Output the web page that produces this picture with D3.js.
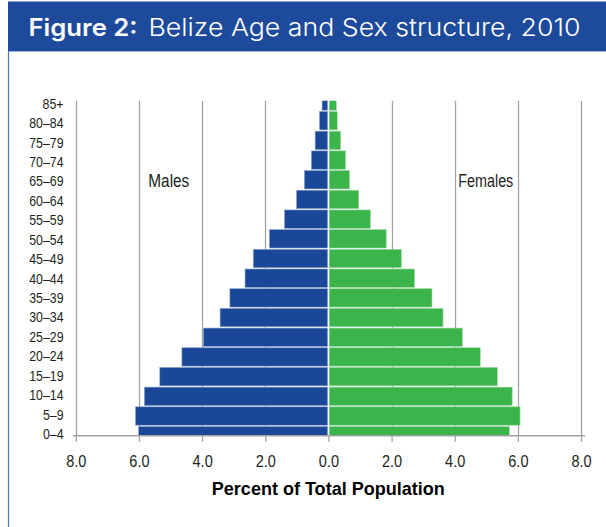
<!DOCTYPE html>
<html><head><meta charset="utf-8">
<script src="https://cdn.jsdelivr.net/npm/d3@7"></script>
<style>
body{margin:0;background:#fff;}
svg{display:block;}
</style></head>
<body>
<svg id="chart" width="606" height="527"></svg>
<script>
const ageGroups = ["0–4","5–9","10–14","15–19","20–24","25–29","30–34","35–39","40–44","45–49","50–54","55–59","60–64","65–69","70–74","75–79","80–84","85+"];
const males   = [6.01,6.11,5.83,5.34,4.64,3.96,3.43,3.12,2.64,2.38,1.87,1.39,1.01,0.76,0.54,0.42,0.28,0.20];
const females = [5.73,6.07,5.82,5.35,4.81,4.24,3.63,3.28,2.73,2.31,1.83,1.33,0.96,0.67,0.54,0.39,0.28,0.25];
const tickValues = [-8,-6,-4,-2,0,2,4,6,8];

const svg = d3.select("#chart");
const narrow = "'Liberation Sans',Arial,sans-serif";
function squeeze(sel, f){
  sel.each(function(){
    const w = this.getComputedTextLength();
    d3.select(this).attr("textLength", w*f).attr("lengthAdjust","spacingAndGlyphs");
  });
}
function fit(sel, w){
  sel.attr("textLength", w).attr("lengthAdjust","spacingAndGlyphs");
}

// header band
svg.append("rect").attr("x",8).attr("y",1.5).attr("width",598).attr("height",49.5).attr("fill","#1d4a9b");
svg.append("line").attr("x1",8).attr("x2",606).attr("y1",51.5).attr("y2",51.5).attr("stroke","#9db8e0").attr("stroke-width",1);
svg.append("line").attr("x1",8.5).attr("x2",8.5).attr("y1",51).attr("y2",527).attr("stroke","#4a78c6").attr("stroke-width",1.2);

const t1 = svg.append("text").attr("x",28.5).attr("y",35.7)
  .attr("fill","#fff").attr("font-family","Inter,'Open Sans',sans-serif").attr("font-size",24).attr("font-weight",600)
  .text("Figure 2:");
fit(t1, 109);
const t2 = svg.append("text").attr("x",148.5).attr("y",35.7)
  .attr("fill","#fff").attr("font-family","Inter,'Open Sans',sans-serif").attr("font-size",24).attr("font-weight",300)
  .text("Belize Age and Sex structure, 2010");
fit(t2, 432);

const plotTop = 100.7, plotBottom = 435.7;
const x = d3.scaleLinear().domain([-8,8]).range([75.8,581]);
const y = d3.scalePoint().domain(ageGroups).range([plotBottom, 101]);
const yLab = d3.scalePoint().domain(ageGroups).range([433.3, 103]);
const barH = 18.4;

svg.append("defs").append("clipPath").attr("id","plotclip")
  .append("rect").attr("x",0).attr("y",plotTop).attr("width",606).attr("height",plotBottom-plotTop);

// gridlines
svg.append("g").selectAll("line").data(tickValues.filter(d=>d!==0)).join("line")
  .attr("x1",d=>Math.round(x(d))+0.5).attr("x2",d=>Math.round(x(d))+0.5)
  .attr("y1",plotTop).attr("y2",plotBottom)
  .attr("stroke","#a3a3a3").attr("stroke-width",1.3);

// bars
const rows = ageGroups.map((a,i)=>({age:a,m:males[i],f:females[i]}));
const bars = svg.append("g").attr("clip-path","url(#plotclip)");
bars.append("g").selectAll("rect").data(rows).join("rect")
  .attr("x",d=>x(-d.m)).attr("width",d=>x(0)-0.8-x(-d.m))
  .attr("y",d=>y(d.age)-barH/2).attr("height",barH)
  .attr("fill","#1b4799").attr("stroke","#8ea6cf").attr("stroke-width",0.6);
bars.append("g").selectAll("rect").data(rows).join("rect")
  .attr("x",x(0)+0.8).attr("width",d=>x(d.f)-x(0)-0.8)
  .attr("y",d=>y(d.age)-barH/2).attr("height",barH)
  .attr("fill","#3bb54a").attr("stroke","#9fd8a5").attr("stroke-width",0.6);

// x axis
const xAxis = d3.axisBottom(x).tickValues(tickValues).tickSize(6).tickSizeOuter(0)
  .tickFormat(d=>Math.abs(d).toFixed(1));
const gx = svg.append("g").attr("transform",`translate(0,${plotBottom})`).call(xAxis);
gx.select(".domain").remove();
gx.append("line").attr("x1",73).attr("x2",585).attr("y1",0).attr("y2",0).attr("stroke","#a3a3a3").attr("stroke-width",1.5);
gx.selectAll(".tick line").attr("stroke","#a3a3a3").attr("stroke-width",1.3);
const xt = gx.selectAll(".tick text").attr("fill","#231f20").attr("font-family",narrow).attr("font-size",16.5)
  .attr("y",31).attr("dy",0);
squeeze(xt, 0.88);

// y axis labels
const yAxis = d3.axisLeft(yLab).tickSize(0).tickPadding(0);
const gy = svg.append("g").attr("transform","translate(63.5,0)").call(yAxis);
gy.select(".domain").remove();
const yt = gy.selectAll(".tick text").attr("fill","#231f20").attr("font-family",narrow).attr("font-size",14.5).attr("dy","0.36em");
squeeze(yt, 0.85);

// labels
const lm = svg.append("text").attr("x",168.8).attr("y",186.7).attr("text-anchor","middle")
  .attr("font-family",narrow).attr("font-size",18).attr("fill","#231f20").text("Males");
fit(lm, 41);
const lf = svg.append("text").attr("x",485.8).attr("y",187.3).attr("text-anchor","middle")
  .attr("font-family",narrow).attr("font-size",18).attr("fill","#231f20").text("Females");
fit(lf, 55);
const lx = svg.append("text").attr("x",328.3).attr("y",495).attr("text-anchor","middle")
  .attr("font-family",narrow).attr("font-weight","bold").attr("font-size",18.5).attr("fill","#000").text("Percent of Total Population");
fit(lx, 233);
</script>
</body></html>
